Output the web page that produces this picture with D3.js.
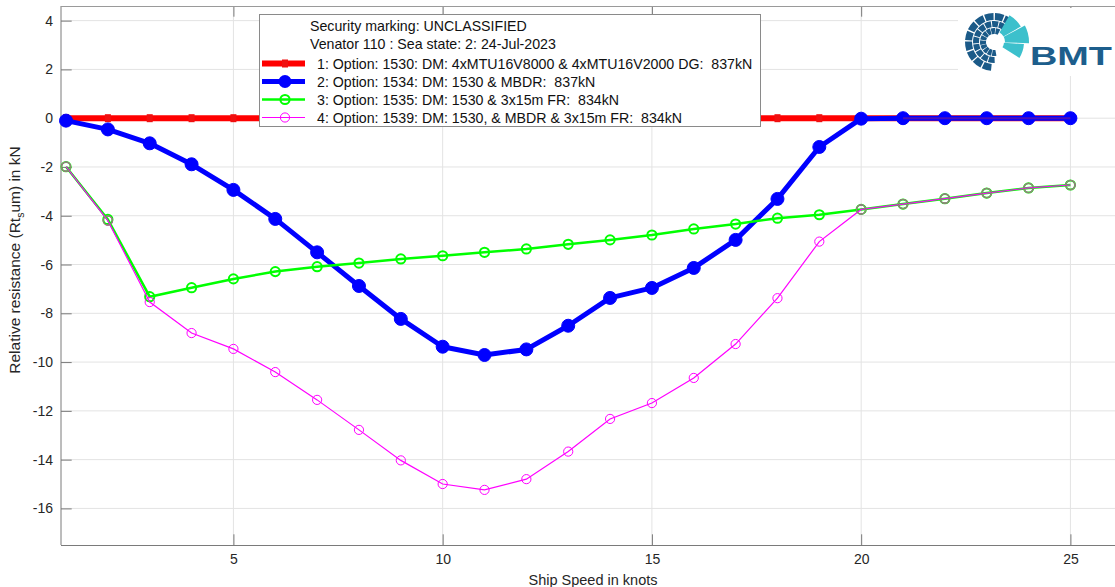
<!DOCTYPE html>
<html><head><meta charset="utf-8">
<script src="https://cdn.jsdelivr.net/npm/d3@7"></script>
<style>
html,body{margin:0;padding:0;background:#fff;}
svg text{font-family:"Liberation Sans",Arial,Helvetica,sans-serif;}
</style></head>
<body>
<svg id="chart" width="1115" height="587"></svg>
<script>
// ---- data ----
const speeds = [1,2,3,4,5,6,7,8,9,10,11,12,13,14,15,16,17,18,19,20,21,22,23,24,25];
const opt1530 = [0,0,0,0,0,0,0,0,0,0,0,0,0,0,0,0,0,0,0,0,0,0,0,0,0];
const opt1534 = [-0.10,-0.46,-1.03,-1.89,-2.94,-4.13,-5.50,-6.88,-8.23,-9.37,-9.71,-9.48,-8.51,-7.37,-6.96,-6.14,-4.99,-3.31,-1.18,-0.02,0,0,0,0,0];
const opt1535 = [-1.99,-4.15,-7.32,-6.95,-6.59,-6.29,-6.09,-5.94,-5.77,-5.64,-5.50,-5.36,-5.17,-4.99,-4.79,-4.54,-4.34,-4.10,-3.96,-3.74,-3.52,-3.30,-3.07,-2.86,-2.74];
const opt1539 = [-1.99,-4.20,-7.54,-8.81,-9.46,-10.41,-11.55,-12.78,-14.03,-15.00,-15.24,-14.80,-13.67,-12.33,-11.68,-10.65,-9.26,-7.38,-5.06,-3.74,-3.52,-3.30,-3.07,-2.86,-2.74];
const seriesLabels = [
  "1: Option: 1530: DM: 4xMTU16V8000 & 4xMTU16V2000 DG:  837kN",
  "2: Option: 1534: DM: 1530 & MBDR:  837kN",
  "3: Option: 1535: DM: 1530 & 3x15m FR:  834kN",
  "4: Option: 1539: DM: 1530, & MBDR & 3x15m FR:  834kN"
];
const legendHeader = ["Security marking: UNCLASSIFIED", "Venator 110 : Sea state: 2: 24-Jul-2023"];
const xTicks = [5,10,15,20,25];
const yTicks = [4,2,0,-2,-4,-6,-8,-10,-12,-14,-16];
const xLabel = "Ship Speed in knots";

// ---- layout ----
const svg = d3.select("#chart");
const L = 61, R = 1129, T = 6, B = 545;
const x = d3.scaleLinear().domain([0.88, 26.4]).range([L, R]);
const y = d3.scaleLinear().domain([-17.5, 4.6]).range([B, T]);
const tickLen = 10.7;

// grid
const grid = svg.append("g");
grid.selectAll(".gx").data(xTicks).enter().append("line")
  .attr("x1", d => x(d)).attr("x2", d => x(d)).attr("y1", T).attr("y2", B)
  .attr("stroke", "#e3e3e3").attr("stroke-width", 1);
grid.selectAll(".gy").data(yTicks).enter().append("line")
  .attr("x1", L).attr("x2", R).attr("y1", d => y(d)).attr("y2", d => y(d))
  .attr("stroke", "#e3e3e3").attr("stroke-width", 1);

// axes via d3 axis generators (ticks pointing inward)
const axCol = "#7a7a7a";
const xAxisB = d3.axisBottom(x).tickValues(xTicks).tickSize(-tickLen).tickPadding(9).tickFormat(d3.format("d"));
const xAxisT = d3.axisTop(x).tickValues(xTicks).tickSize(-tickLen).tickFormat("");
const yAxisL = d3.axisLeft(y).tickValues(yTicks).tickSize(-tickLen).tickPadding(8).tickFormat(d => d < 0 ? "-" + Math.abs(d) : d);
function styleAxis(g){
  g.select(".domain").remove();
  g.selectAll(".tick line").attr("stroke", axCol);
  g.selectAll(".tick text").attr("fill", "#262626").style("font-size", "14px");
}
svg.append("g").attr("transform", `translate(0,${B})`).call(xAxisB).call(styleAxis);
svg.append("g").attr("transform", `translate(0,${T})`).call(xAxisT).call(styleAxis);
svg.append("g").attr("transform", `translate(${L},0)`).call(yAxisL).call(styleAxis);
// box lines
svg.append("line").attr("x1", L).attr("x2", L).attr("y1", T).attr("y2", B).attr("stroke", axCol);
svg.append("line").attr("x1", L).attr("x2", R).attr("y1", B+0.5).attr("y2", B+0.5).attr("stroke", axCol);
svg.append("line").attr("x1", L).attr("x2", R).attr("y1", T+0.5).attr("y2", T+0.5).attr("stroke", "#9a9a9a");

// axis labels
svg.append("text").attr("x", 593).attr("y", 585).attr("text-anchor", "middle")
  .attr("fill", "#262626").style("font-size", "14.5px").text(xLabel);
const yl = svg.append("text").attr("transform", "translate(20,260) rotate(-90)").attr("text-anchor", "middle")
  .attr("fill", "#262626").style("font-size", "15.5px");
yl.append("tspan").text("Relative resistance (Rt");
yl.append("tspan").attr("dy", 4).style("font-size", "10.5px").text("s");
yl.append("tspan").attr("dy", -4).text("um) in kN");

// series
const line = d3.line().x(d => x(d[0])).y(d => y(d[1]));
const mk = arr => speeds.map((s, i) => [s, arr[i]]);
const s1 = mk(opt1530), s2 = mk(opt1534), s3 = mk(opt1535), s4 = mk(opt1539);

svg.append("path").datum(s1).attr("d", line).attr("fill", "none").attr("stroke", "#ff0000").attr("stroke-width", 6);
svg.selectAll(".m1").data(s1).enter().append("rect")
  .attr("x", d => x(d[0]) - 3).attr("y", d => y(d[1]) - 4).attr("width", 6).attr("height", 8)
  .attr("fill", "#f01010");

svg.append("path").datum(s2).attr("d", line).attr("fill", "none").attr("stroke", "#0000ff").attr("stroke-width", 5).attr("stroke-linejoin","round");
svg.selectAll(".m2").data(s2).enter().append("circle")
  .attr("cx", d => x(d[0])).attr("cy", d => y(d[1])).attr("r", 6.5).attr("fill", "#0000ff").attr("stroke", "#0000ff").attr("stroke-width", 1);
// purple tint where blue sits on red
svg.append("path").datum(s2.filter(d => d[1] === 0)).attr("d", line).attr("fill", "none").attr("stroke", "#7a1a8a").attr("stroke-width", 2).attr("stroke-opacity", 0.6);

svg.append("path").datum(s3).attr("d", line).attr("fill", "none").attr("stroke", "#00ff00").attr("stroke-width", 2.5);
svg.selectAll(".m3").data(s3).enter().append("circle")
  .attr("cx", d => x(d[0])).attr("cy", d => y(d[1])).attr("r", 4.6).attr("fill", "none").attr("stroke", "#00ff00").attr("stroke-width", 2);

svg.append("path").datum(s4).attr("d", line).attr("fill", "none").attr("stroke", "#ff00ff").attr("stroke-width", 1.2);
svg.selectAll(".m4").data(s4).enter().append("circle")
  .attr("cx", d => x(d[0])).attr("cy", d => y(d[1])).attr("r", 4.6).attr("fill", "none").attr("stroke", "#ff00ff").attr("stroke-width", 1);
// grey tint where green and magenta overlap
svg.selectAll(".m5").data(s4.filter((d, i) => Math.abs(d[1] - opt1535[i]) < 0.06)).enter().append("circle")
  .attr("cx", d => x(d[0])).attr("cy", d => y(d[1])).attr("r", 4.6).attr("fill", "none").attr("stroke", "#8a8a70").attr("stroke-width", 1.3);

// legend
const lg = svg.append("g");
lg.append("rect").attr("x", 259.5).attr("y", 14.5).attr("width", 501).attr("height", 112)
  .attr("fill", "#fff").attr("stroke", "#8a8a8a").attr("stroke-width", 1);
legendHeader.forEach((t, i) => {
  lg.append("text").attr("x", 310).attr("y", 30.5 + i * 18.5).attr("fill", "#111").style("font-size", "14.2px")
    .attr("xml:space", "preserve").style("white-space", "pre").text(t);
});
const legStyles = [
  {c: "#ff0000", w: 6, m: "sq"},
  {c: "#0000ff", w: 5, m: "dot"},
  {c: "#00ff00", w: 2.5, m: "o2"},
  {c: "#ff00ff", w: 1.2, m: "o1"}
];
seriesLabels.forEach((t, i) => {
  const cy = 63.5 + i * 18;
  const st = legStyles[i];
  lg.append("line").attr("x1", 262).attr("x2", 305).attr("y1", cy).attr("y2", cy).attr("stroke", st.c).attr("stroke-width", st.w);
  if (st.m === "sq") lg.append("rect").attr("x", 282).attr("y", cy - 4).attr("width", 6).attr("height", 8).attr("fill", "#f01010");
  if (st.m === "dot") lg.append("circle").attr("cx", 285).attr("cy", cy).attr("r", 6.5).attr("fill", st.c);
  if (st.m === "o2") lg.append("circle").attr("cx", 285).attr("cy", cy).attr("r", 4.6).attr("fill", "none").attr("stroke", st.c).attr("stroke-width", 2);
  if (st.m === "o1") lg.append("circle").attr("cx", 285).attr("cy", cy).attr("r", 4.6).attr("fill", "none").attr("stroke", st.c).attr("stroke-width", 1);
  lg.append("text").attr("x", 317).attr("y", cy + 5).attr("fill", "#111").style("font-size", "14.2px")
    .attr("xml:space", "preserve").style("white-space", "pre").text(t);
});

// BMT logo
const logo = svg.append("g");
logo.append("rect").attr("x", 958).attr("y", 8).attr("width", 160).attr("height", 68).attr("fill", "#fff");
const lc = logo.append("g").attr("transform", "translate(994,42)");
const arc = d3.arc();
const rings = [[8, 14], [15, 21], [22, 29]];
const deg = Math.PI / 180;
rings.forEach((rr, ri) => {
  for (let a = -190 + ri * 8; a < 28; a += 22) {
    lc.append("path").attr("d", arc({innerRadius: rr[0], outerRadius: rr[1], startAngle: a * deg, endAngle: (a + 19) * deg}))
      .attr("fill", "#1b5a88");
  }
});
[[11, 31, 30, 60], [11, 35, 62, 92], [10, 30, 94, 122]].forEach(s => {
  lc.append("path").attr("d", arc({innerRadius: s[0], outerRadius: s[1], startAngle: s[2] * deg, endAngle: s[3] * deg}))
    .attr("fill", "#3cc0cc");
});
logo.append("text").attr("x", 1030).attr("y", 65).attr("fill", "#1d5e8c").style("font-size", "26px")
  .style("font-weight", "bold").attr("textLength", 82).attr("lengthAdjust", "spacingAndGlyphs").text("BMT");
</script>
</body></html>
